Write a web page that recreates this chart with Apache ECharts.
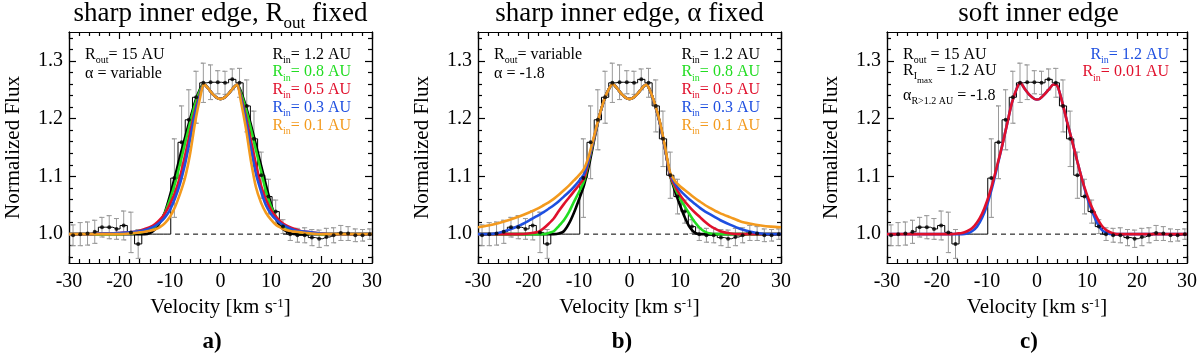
<!DOCTYPE html>
<html>
<head>
<meta charset="utf-8">
<script src="https://cdn.jsdelivr.net/npm/echarts@6/dist/echarts.min.js"></script>
<style>
  html, body { margin: 0; padding: 0; background: #fff; }
  #chart { width: 1200px; height: 355px; }
</style>
</head>
<body>
<div id="chart"></div>
<script>
// observed profile, bin centres in km/s
const vel = [-29.2,-27.77,-26.33,-24.9,-23.47,-22.03,-20.6,-19.17,-17.73,-16.3,-14.87,-13.43,-12.0,-10.57,-9.13,-7.7,-6.27,-4.83,-3.4,-1.97,-0.53,0.9,2.33,3.77,5.2,6.63,8.07,9.5,10.93,12.37,13.8,15.23,16.67,18.1,19.53,20.97,22.4,23.83,25.27,26.7,28.13,29.57];
const flux = [0.998,1.000,1.001,1.004,1.012,1.012,1.009,1.015,1.003,0.983,1.000,1.000,1.000,1.000,1.097,1.159,1.198,1.237,1.262,1.263,1.263,1.262,1.268,1.262,1.222,1.165,1.102,1.065,1.039,1.013,1.000,0.998,0.998,0.994,0.992,0.995,0.998,1.002,1.001,0.998,0.998,1.000];
// null = no measurement in that bin (masked)
const fluxErr = [0.018,0.02,0.02,0.02,0.017,0.02,0.018,0.025,0.035,0.025,null,null,null,null,0.068,0.063,0.052,0.045,0.034,0.03,0.02,0.02,0.018,0.025,0.045,0.048,0.04,0.03,0.02,0.012,0.011,0.012,0.013,0.014,0.015,0.015,0.013,0.013,0.012,0.011,0.01,0.009];

// model velocity grid
const modelVel = [-30,-28,-26,-24,-22,-20,-18,-17,-16,-15,-14,-13,-12,-11,-10,-9,-8,-7,-6,-5,-4,-3.3,-2.5,-1.5,-0.5,0,0.5,1.5,2.5,3.3,4,5,6,7,8,9,10,11,12,13,14,15,16,17,18,20,22,24,26,28,30];

// a) sharp inner edge, R_out fixed
const aRin12 = [1.000,1.000,1.000,1.000,1.000,1.000,1.000,1.000,1.000,1.000,1.002,1.008,1.020,1.038,1.067,1.100,1.135,1.168,1.200,1.230,1.252,1.260,1.253,1.242,1.235,1.234,1.235,1.242,1.253,1.259,1.248,1.222,1.190,1.155,1.120,1.085,1.052,1.027,1.012,1.005,1.001,1.000,1.000,1.000,1.000,1.000,1.000,1.000,1.000,1.000,1.000];
const aRin08 = [1.000,1.000,1.000,1.000,1.000,1.000,1.001,1.002,1.003,1.005,1.008,1.013,1.022,1.037,1.060,1.088,1.122,1.158,1.193,1.226,1.250,1.260,1.253,1.242,1.235,1.234,1.235,1.242,1.253,1.259,1.245,1.218,1.183,1.146,1.110,1.074,1.048,1.030,1.018,1.011,1.007,1.004,1.003,1.002,1.001,1.000,1.000,1.000,1.000,1.000,1.000];
const aRin05 = [1.000,1.000,1.000,1.001,1.001,1.002,1.003,1.004,1.006,1.009,1.012,1.017,1.025,1.036,1.052,1.072,1.100,1.137,1.177,1.215,1.245,1.260,1.253,1.242,1.235,1.234,1.235,1.242,1.253,1.259,1.240,1.205,1.163,1.122,1.085,1.060,1.042,1.030,1.021,1.015,1.011,1.008,1.005,1.004,1.003,1.001,1.000,1.000,1.000,1.000,1.000];
const aRin03 = [1.000,1.000,1.000,1.001,1.001,1.002,1.003,1.004,1.005,1.007,1.010,1.014,1.020,1.029,1.042,1.062,1.088,1.122,1.165,1.210,1.243,1.260,1.253,1.242,1.235,1.234,1.235,1.242,1.253,1.259,1.237,1.198,1.150,1.105,1.075,1.050,1.035,1.025,1.018,1.013,1.009,1.006,1.005,1.004,1.003,1.001,1.000,1.000,1.000,1.000,1.000];
const aRin01 = [1.000,1.000,1.000,1.000,1.000,1.000,1.001,1.002,1.003,1.004,1.006,1.008,1.012,1.019,1.030,1.047,1.070,1.098,1.140,1.195,1.238,1.260,1.253,1.242,1.235,1.234,1.235,1.242,1.253,1.259,1.232,1.185,1.128,1.082,1.055,1.037,1.025,1.016,1.011,1.007,1.005,1.004,1.003,1.002,1.001,1.000,1.000,1.000,1.000,1.000,1.000];

// b) sharp inner edge, alpha fixed
const bRin12 = [1.000,1.000,1.000,1.000,1.000,1.000,1.000,1.000,1.000,1.000,1.001,1.005,1.018,1.037,1.060,1.085,1.120,1.163,1.203,1.233,1.253,1.260,1.253,1.242,1.235,1.234,1.235,1.242,1.253,1.259,1.250,1.225,1.193,1.150,1.103,1.075,1.050,1.028,1.011,1.002,1.000,1.000,1.000,1.000,1.000,1.000,1.000,1.000,1.000,1.000,1.000];
const bRin08 = [1.000,1.000,1.000,1.000,1.000,1.000,1.000,1.000,1.002,1.005,1.014,1.024,1.038,1.056,1.073,1.092,1.128,1.166,1.203,1.233,1.253,1.260,1.253,1.242,1.235,1.234,1.235,1.242,1.253,1.259,1.250,1.225,1.193,1.150,1.103,1.080,1.062,1.047,1.033,1.020,1.010,1.004,1.001,1.000,1.000,1.000,1.000,1.000,1.000,1.000,1.000];
const bRin05 = [1.000,1.000,1.000,1.000,1.000,1.001,1.004,1.010,1.018,1.027,1.040,1.052,1.063,1.074,1.085,1.097,1.130,1.167,1.203,1.233,1.253,1.260,1.253,1.242,1.235,1.234,1.235,1.242,1.253,1.259,1.250,1.225,1.193,1.150,1.103,1.083,1.068,1.056,1.046,1.037,1.029,1.021,1.014,1.009,1.005,1.001,1.000,1.000,1.000,1.000,1.000];
const bRin03 = [1.000,1.000,1.002,1.007,1.014,1.023,1.033,1.038,1.044,1.050,1.057,1.065,1.073,1.082,1.092,1.104,1.132,1.168,1.203,1.233,1.253,1.260,1.253,1.242,1.235,1.234,1.235,1.242,1.253,1.259,1.250,1.225,1.193,1.150,1.105,1.088,1.076,1.067,1.059,1.052,1.045,1.039,1.034,1.029,1.024,1.016,1.009,1.004,1.001,1.000,1.000];
const bRin01 = [1.012,1.015,1.019,1.024,1.030,1.037,1.045,1.050,1.055,1.061,1.068,1.076,1.084,1.093,1.102,1.113,1.137,1.170,1.204,1.233,1.253,1.260,1.253,1.242,1.235,1.234,1.235,1.242,1.253,1.259,1.250,1.226,1.195,1.153,1.108,1.092,1.083,1.076,1.069,1.062,1.056,1.050,1.045,1.040,1.036,1.029,1.022,1.018,1.015,1.013,1.012];

// c) soft inner edge
const cRin12 = [1.000,1.000,1.000,1.000,1.000,1.000,1.000,1.000,1.000,1.000,1.001,1.005,1.013,1.028,1.050,1.080,1.115,1.152,1.190,1.228,1.253,1.262,1.252,1.241,1.234,1.233,1.234,1.242,1.252,1.259,1.258,1.230,1.195,1.162,1.128,1.095,1.064,1.040,1.020,1.007,1.002,1.000,1.000,1.000,1.000,1.000,1.000,1.000,1.000,1.000,1.000];
const cRin001 = [1.000,1.000,1.000,1.000,1.000,1.000,1.000,1.000,1.001,1.002,1.005,1.010,1.020,1.035,1.057,1.085,1.118,1.152,1.190,1.228,1.253,1.262,1.252,1.241,1.234,1.233,1.234,1.242,1.252,1.259,1.258,1.230,1.195,1.162,1.128,1.095,1.068,1.046,1.028,1.014,1.006,1.002,1.000,1.000,1.000,1.000,1.000,1.000,1.000,1.000,1.000];

// continuum reference (dashed)
const contVel = [-9, 30];
const contFlux = 1.0;

// tick values
const yLabelTicks = [1.0, 1.1, 1.2, 1.3];
const yMinorTicks = [0.96,0.98,1.02,1.04,1.06,1.08,1.12,1.14,1.16,1.18,1.22,1.24,1.26,1.28,1.32,1.34];

const GREEN = '#22dd22', RED = '#e0102c', BLUE = '#1e4fe0', ORANGE = '#f39a1e';
const SERIF = "'Liberation Serif', 'DejaVu Serif', serif";

const panelLeft = [69, 478, 887];
const plotTop = 32, plotW = 303, plotH = 231;

const panels = [
  {
    label: 'a)', labelX: 212,
    title: '{n|sharp inner edge, R}{s|out}{n| fixed}',
    models: [[aRin12, '#000'], [aRin08, GREEN], [aRin05, RED], [aRin03, BLUE], [aRin01, ORANGE]],
    leftNotes: [['{n|R}{s|out}{n|= 15 AU}', '#000'], ['{n|α = variable}', '#000']],
    rightNotes: [['{n|R}{s|in}{n|= 1.2 AU}', '#000'], ['{n|R}{s|in}{n|= 0.8 AU}', GREEN], ['{n|R}{s|in}{n|= 0.5 AU}', RED], ['{n|R}{s|in}{n|= 0.3 AU}', BLUE], ['{n|R}{s|in}{n|= 0.1 AU}', ORANGE]]
  },
  {
    label: 'b)', labelX: 622,
    title: '{n|sharp inner edge, α fixed}',
    models: [[bRin12, '#000'], [bRin08, GREEN], [bRin05, RED], [bRin03, BLUE], [bRin01, ORANGE]],
    leftNotes: [['{n|R}{s|out}{n|= variable}', '#000'], ['{n|α = -1.8}', '#000']],
    rightNotes: [['{n|R}{s|in}{n|= 1.2 AU}', '#000'], ['{n|R}{s|in}{n|= 0.8 AU}', GREEN], ['{n|R}{s|in}{n|= 0.5 AU}', RED], ['{n|R}{s|in}{n|= 0.3 AU}', BLUE], ['{n|R}{s|in}{n|= 0.1 AU}', ORANGE]]
  },
  {
    label: 'c)', labelX: 1029,
    title: '{n|soft inner edge}',
    models: [[cRin12, BLUE], [cRin001, RED]],
    leftNotes: [['{n|R}{s|out}{n| = 15 AU}', '#000'], ['{n|R}{s|I}{ss|max}{n| = 1.2 AU}', '#000'], ['{n|α}{s|R>1.2 AU}{n| = -1.8}', '#000']],
    leftNoteY: [56, 74, 97],
    rightNotes: [['{n|R}{s|in}{n|= 1.2 AU}', BLUE], ['{n|R}{s|in}{n|= 0.01 AU}', RED]]
  }
];

// rich styles for zrender graphic text (fill) and for echarts labels (color)
function richFor(size, color, key) {
  const c = { fontWeight: 'normal' }; c[key] = color;
  return {
    n: Object.assign({ fontFamily: SERIF, fontSize: size, verticalAlign: 'top' }, c),
    s: Object.assign({ fontFamily: SERIF, fontSize: Math.round(size * 0.62), padding: [Math.round(size * 0.55), 0, 0, 0], verticalAlign: 'top' }, c),
    ss: Object.assign({ fontFamily: SERIF, fontSize: Math.round(size * 0.55), padding: [Math.round(size * 0.9), 0, 0, 0], verticalAlign: 'top' }, c)
  };
}

function noteText(x, y, text, color, align) {
  return { type: 'text', x: x, y: y, z: 100,
    style: { text: text, rich: richFor(16, color, 'fill'), align: align, verticalAlign: 'middle' } };
}

const chart = echarts.init(document.getElementById('chart'));

const grid = [], xAxis = [], yAxis = [], series = [], graphic = [], title = [];
const axisCol = { color: '#000', width: 1.2 };

panels.forEach((p, i) => {
  const L = panelLeft[i];
  grid.push({ left: L, top: plotTop, width: plotW, height: plotH });

  // bottom x axis (labels + name) and top mirror
  xAxis.push({
    gridIndex: i, type: 'value', position: 'bottom', min: -30, max: 30, interval: 10,
    axisLine: { show: true, onZero: false, lineStyle: axisCol },
    axisTick: { show: true, inside: true, length: 7, lineStyle: axisCol },
    minorTick: { show: true, splitNumber: 5, length: 4, lineStyle: axisCol },
    splitLine: { show: false },
    axisLabel: { fontFamily: SERIF, fontSize: 20, color: '#000', margin: 9 },
    name: '{n|Velocity [km s}{p|-1}{n|]}',
    nameLocation: 'middle', nameGap: 33,
    nameTextStyle: {
      rich: {
        n: { fontFamily: SERIF, fontSize: 21, color: '#000', verticalAlign: 'top' },
        p: { fontFamily: SERIF, fontSize: 13, color: '#000', verticalAlign: 'top' }
      }
    }
  });
  xAxis.push({
    gridIndex: i, type: 'value', position: 'top', min: -30, max: 30, interval: 10,
    axisLine: { show: true, onZero: false, lineStyle: axisCol },
    axisTick: { show: true, inside: true, length: 7, lineStyle: axisCol },
    minorTick: { show: true, splitNumber: 5, length: 4, lineStyle: axisCol },
    splitLine: { show: false },
    axisLabel: { show: false }
  });

  ['left', 'right'].forEach(pos => {
    const major = {
      gridIndex: i, type: 'value', position: pos, min: 0.95, max: 1.35,
      axisLine: { show: true, onZero: false, lineStyle: axisCol },
      axisTick: { show: true, inside: true, length: 7, lineStyle: axisCol, customValues: yLabelTicks },
      splitLine: { show: false },
      axisLabel: { show: false }
    };
    if (pos === 'left') {
      major.axisLabel = { show: true, customValues: yLabelTicks, formatter: v => v.toFixed(1),
        fontFamily: SERIF, fontSize: 20, color: '#000', margin: 6 };
      major.name = 'Normalized Flux';
      major.nameLocation = 'middle';
      major.nameGap = 45;
      major.nameRotate = 90;
      major.nameTextStyle = { fontFamily: SERIF, fontSize: 21, color: '#000' };
    }
    yAxis.push(major);
    yAxis.push({
      gridIndex: i, type: 'value', position: pos, min: 0.95, max: 1.35,
      axisLine: { show: true, onZero: false, lineStyle: axisCol },
      axisTick: { show: true, inside: true, length: 4, lineStyle: axisCol, customValues: yMinorTicks },
      splitLine: { show: false },
      axisLabel: { show: false }
    });
  });

  const xi = i * 2, yi = i * 4;

  // error bars: one polyline per bin (lower cap, bar, upper cap)
  const errData = [];
  vel.forEach((v, k) => {
    if (fluxErr[k] !== null) errData.push([v, flux[k] - fluxErr[k], flux[k] + fluxErr[k]]);
  });
  series.push({
    type: 'custom', xAxisIndex: xi, yAxisIndex: yi, z: 1, clip: true, silent: true,
    data: errData,
    renderItem: (params, api) => {
      const lo = api.coord([api.value(0), api.value(1)]);
      const hi = api.coord([api.value(0), api.value(2)]);
      return {
        type: 'polyline',
        shape: { points: [[lo[0] - 2.5, lo[1]], [lo[0] + 2.5, lo[1]], [lo[0], lo[1]], [hi[0], hi[1]], [hi[0] - 2.5, hi[1]], [hi[0] + 2.5, hi[1]]] },
        style: { stroke: '#9a9a9a', lineWidth: 1, fill: null }
      };
    }
  });

  // histogram
  series.push({
    type: 'line', xAxisIndex: xi, yAxisIndex: yi, z: 2, step: 'middle', symbol: 'none',
    data: vel.map((v, k) => [v, flux[k]]),
    lineStyle: { color: '#000', width: 1 }, silent: true
  });

  // continuum
  series.push({
    type: 'line', xAxisIndex: xi, yAxisIndex: yi, z: 2, symbol: 'none',
    data: contVel.map(v => [v, contFlux]),
    lineStyle: { color: '#000', width: 1, type: [5, 4] }, silent: true
  });

  // models
  p.models.forEach((m, j) => {
    series.push({
      type: 'line', xAxisIndex: xi, yAxisIndex: yi, z: 3 + j, symbol: 'none', smooth: 0.25,
      data: modelVel.map((v, k) => [v, m[0][k]]),
      lineStyle: { color: m[1], width: 2.6 }, silent: true
    });
  });

  // data points
  const ptData = [];
  vel.forEach((v, k) => { if (fluxErr[k] !== null) ptData.push([v, flux[k]]); });
  series.push({
    type: 'scatter', xAxisIndex: xi, yAxisIndex: yi, z: 20, symbol: 'circle', symbolSize: 4,
    data: ptData, itemStyle: { color: '#000' }, silent: true
  });

  // panel title and label
  title.push({
    text: p.title, left: L + plotW / 2, top: 0, textAlign: 'center', padding: 0,
    textStyle: { fontWeight: 'normal', rich: richFor(27, '#000', 'color') }
  });
  title.push({
    text: p.label, left: p.labelX, top: 331, textAlign: 'center', padding: 0,
    textStyle: { fontFamily: SERIF, fontSize: 23, fontWeight: 'bold', color: '#000' }
  });

  const leftY = p.leftNoteY || [56, 73.5];
  p.leftNotes.forEach((n, k) => graphic.push(noteText(L + 16, leftY[k], n[0], n[1], 'left')));
  const rightY = [56, 73.5, 91, 109, 127];
  p.rightNotes.forEach((n, k) => graphic.push(noteText(L + plotW - 21, rightY[k], n[0], n[1], 'right')));
});

chart.setOption({
  animation: false,
  backgroundColor: '#fff',
  title: title,
  grid: grid,
  xAxis: xAxis,
  yAxis: yAxis,
  series: series,
  graphic: graphic
});
</script>
</body>
</html>
